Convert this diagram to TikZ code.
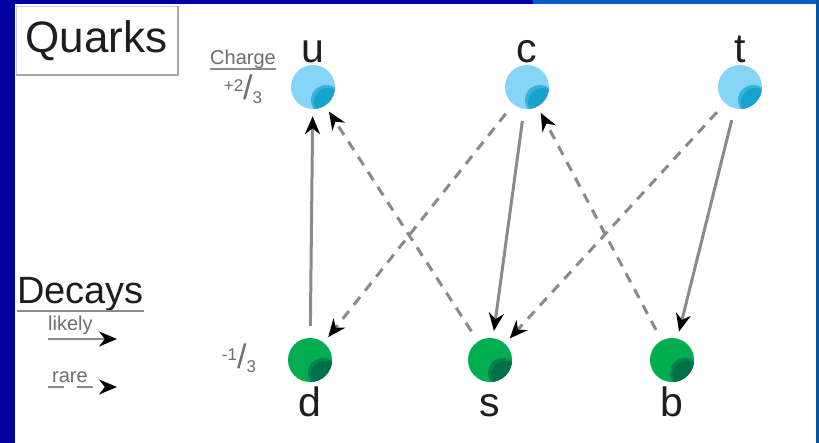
\documentclass[tikz,border=0pt]{standalone}
\usepackage{fontspec}
\setmainfont{Liberation Sans}
\usetikzlibrary{arrows.meta,positioning}

\definecolor{barblue}{HTML}{0000A0}
\definecolor{barlight}{HTML}{0060C0}
\definecolor{barright}{HTML}{0A559C}
\definecolor{upblue}{HTML}{86D5F7}
\definecolor{updark}{HTML}{18A2CF}
\definecolor{downgreen}{HTML}{00AE50}
\definecolor{downdark}{HTML}{00704A}
\definecolor{linegray}{HTML}{8A8A8A}
\definecolor{inkgray}{HTML}{6E6E6E}
\definecolor{ink}{HTML}{1E1E1E}

\newcommand{\chargefrac}[2]{%
  {\fontsize{17}{17}\selectfont\raisebox{8pt}{#1}}%
  {\fontsize{34}{34}\selectfont/}%
  {\fontsize{17}{17}\selectfont\raisebox{-4pt}{#2}}}

\tikzset{
  quark/.style 2 args={circle, minimum size=44pt, inner sep=0pt, fill=#1,
    path picture={
      \fill[#2!70!#1]
        ([shift={(13pt,-13pt)}]path picture bounding box.center) circle (15pt);
      \fill[#2]
        ([shift={(15pt,-15pt)}]path picture bounding box.center) circle (14pt);
    }},
  upq/.style={quark={upblue}{updark}},
  downq/.style={quark={downgreen}{downdark}},
  flavour/.style={font=\fontsize{41}{41}\selectfont, text=ink, inner sep=0pt,
    text height=30pt, text depth=0pt},
  heading/.style={text=ink, inner sep=0pt},
  small/.style={font=\fontsize{20}{20}\selectfont, text=inkgray, inner sep=0pt},
  uline/.style={draw=linegray, line width=2pt},
  likely/.style={draw=linegray, line width=3pt, shorten >=7pt, shorten <=12pt,
    -{Stealth[length=18pt,width=15pt,color=black]}},
  rare/.style={likely, dash pattern=on 10pt off 8pt},
  legend/.style={shorten >=0pt, shorten <=0pt, line width=2.5pt}
}

\begin{document}
\begin{tikzpicture}[x=1pt, y=-1pt]
  \useasboundingbox (0,0) rectangle (819,443);
  \fill[white] (0,0) rectangle (819,443);

  \coordinate (U) at (313,87);
  \coordinate (C) at (527,87);
  \coordinate (T) at (740,87);
  \coordinate (D) at (310,360);
  \coordinate (S) at (490,360);
  \coordinate (B) at (672,360);

  % heading box
  \node[heading, draw=gray!40, line width=1pt, minimum width=161pt,
    minimum height=68pt, font=\fontsize{44}{44}\selectfont]
    (quarks) at (96.5,41) {Quarks};
  \draw[gray!70, line width=2pt]
    (quarks.north east) -- (quarks.south east) -- (quarks.south west);

  % quarks
  \node[upq] (u) at (U) {};
  \node[upq] (c) at (C) {};
  \node[upq] (t) at (T) {};
  \node[downq] (d) at (D) {};
  \node[downq] (s) at (S) {};
  \node[downq] (b) at (B) {};
  \node[flavour, above=2pt of u] (ulabel) {u};
  \node[flavour, above=2pt of c] (clabel) {c};
  \node[flavour, above=2pt of t] (tlabel) {t};
  \node[flavour, below=4pt of d] (dlabel) {d};
  \node[flavour, below=4pt of s] (slabel) {s};
  \node[flavour, below=4pt of b] (blabel) {b};

  % charges
  \node[small, anchor=base west] (charge) at (210,65) {Charge};
  \draw[uline, line width=1.5pt]
    ([yshift=-4pt]charge.base west) -- ([yshift=-4pt]charge.base east);
  \node[small] (upcharge) at (243,89) {\chargefrac{+2}{3}};
  \node[small] (downcharge) at (239,358) {\chargefrac{-1}{3}};

  % decays
  \draw[likely] (d) -- (u);
  \draw[rare] (s) -- (u);
  \draw[rare] (c) -- (d);
  \draw[likely] (c) -- (s);
  \draw[rare] (t) -- (s);
  \draw[rare] (b) -- (c);
  \draw[likely] (t) -- (b);

  % legend
  \node[heading, anchor=base west, font=\fontsize{38}{38}\selectfont]
    (decays) at (17,304) {Decays};
  \draw[uline, line width=2.5pt]
    ([yshift=-7pt]decays.base west) -- ([yshift=-7pt]decays.base east);
  \node[small, anchor=base west] (likelytext) at (48,331) {likely};
  \node[small, anchor=base west] (raretext) at (52,383) {rare};
  \coordinate (LK0) at (48,339);
  \coordinate (LK1) at (117,339);
  \coordinate (RR0) at (48,387);
  \coordinate (RR1) at (117,387);
  \draw[likely, legend] (LK0) -- (LK1);
  \draw[likely, legend, dash pattern=on 16pt off 13pt] (RR0) -- (RR1);

  % frame
  \fill[barblue] (0,0) rectangle (15,443);
  \fill[barblue] (0,0) rectangle (533,4);
  \fill[barlight] (533,0) rectangle (819,4);
  \fill[barright] (816,0) rectangle (819,443);
\end{tikzpicture}
\end{document}
